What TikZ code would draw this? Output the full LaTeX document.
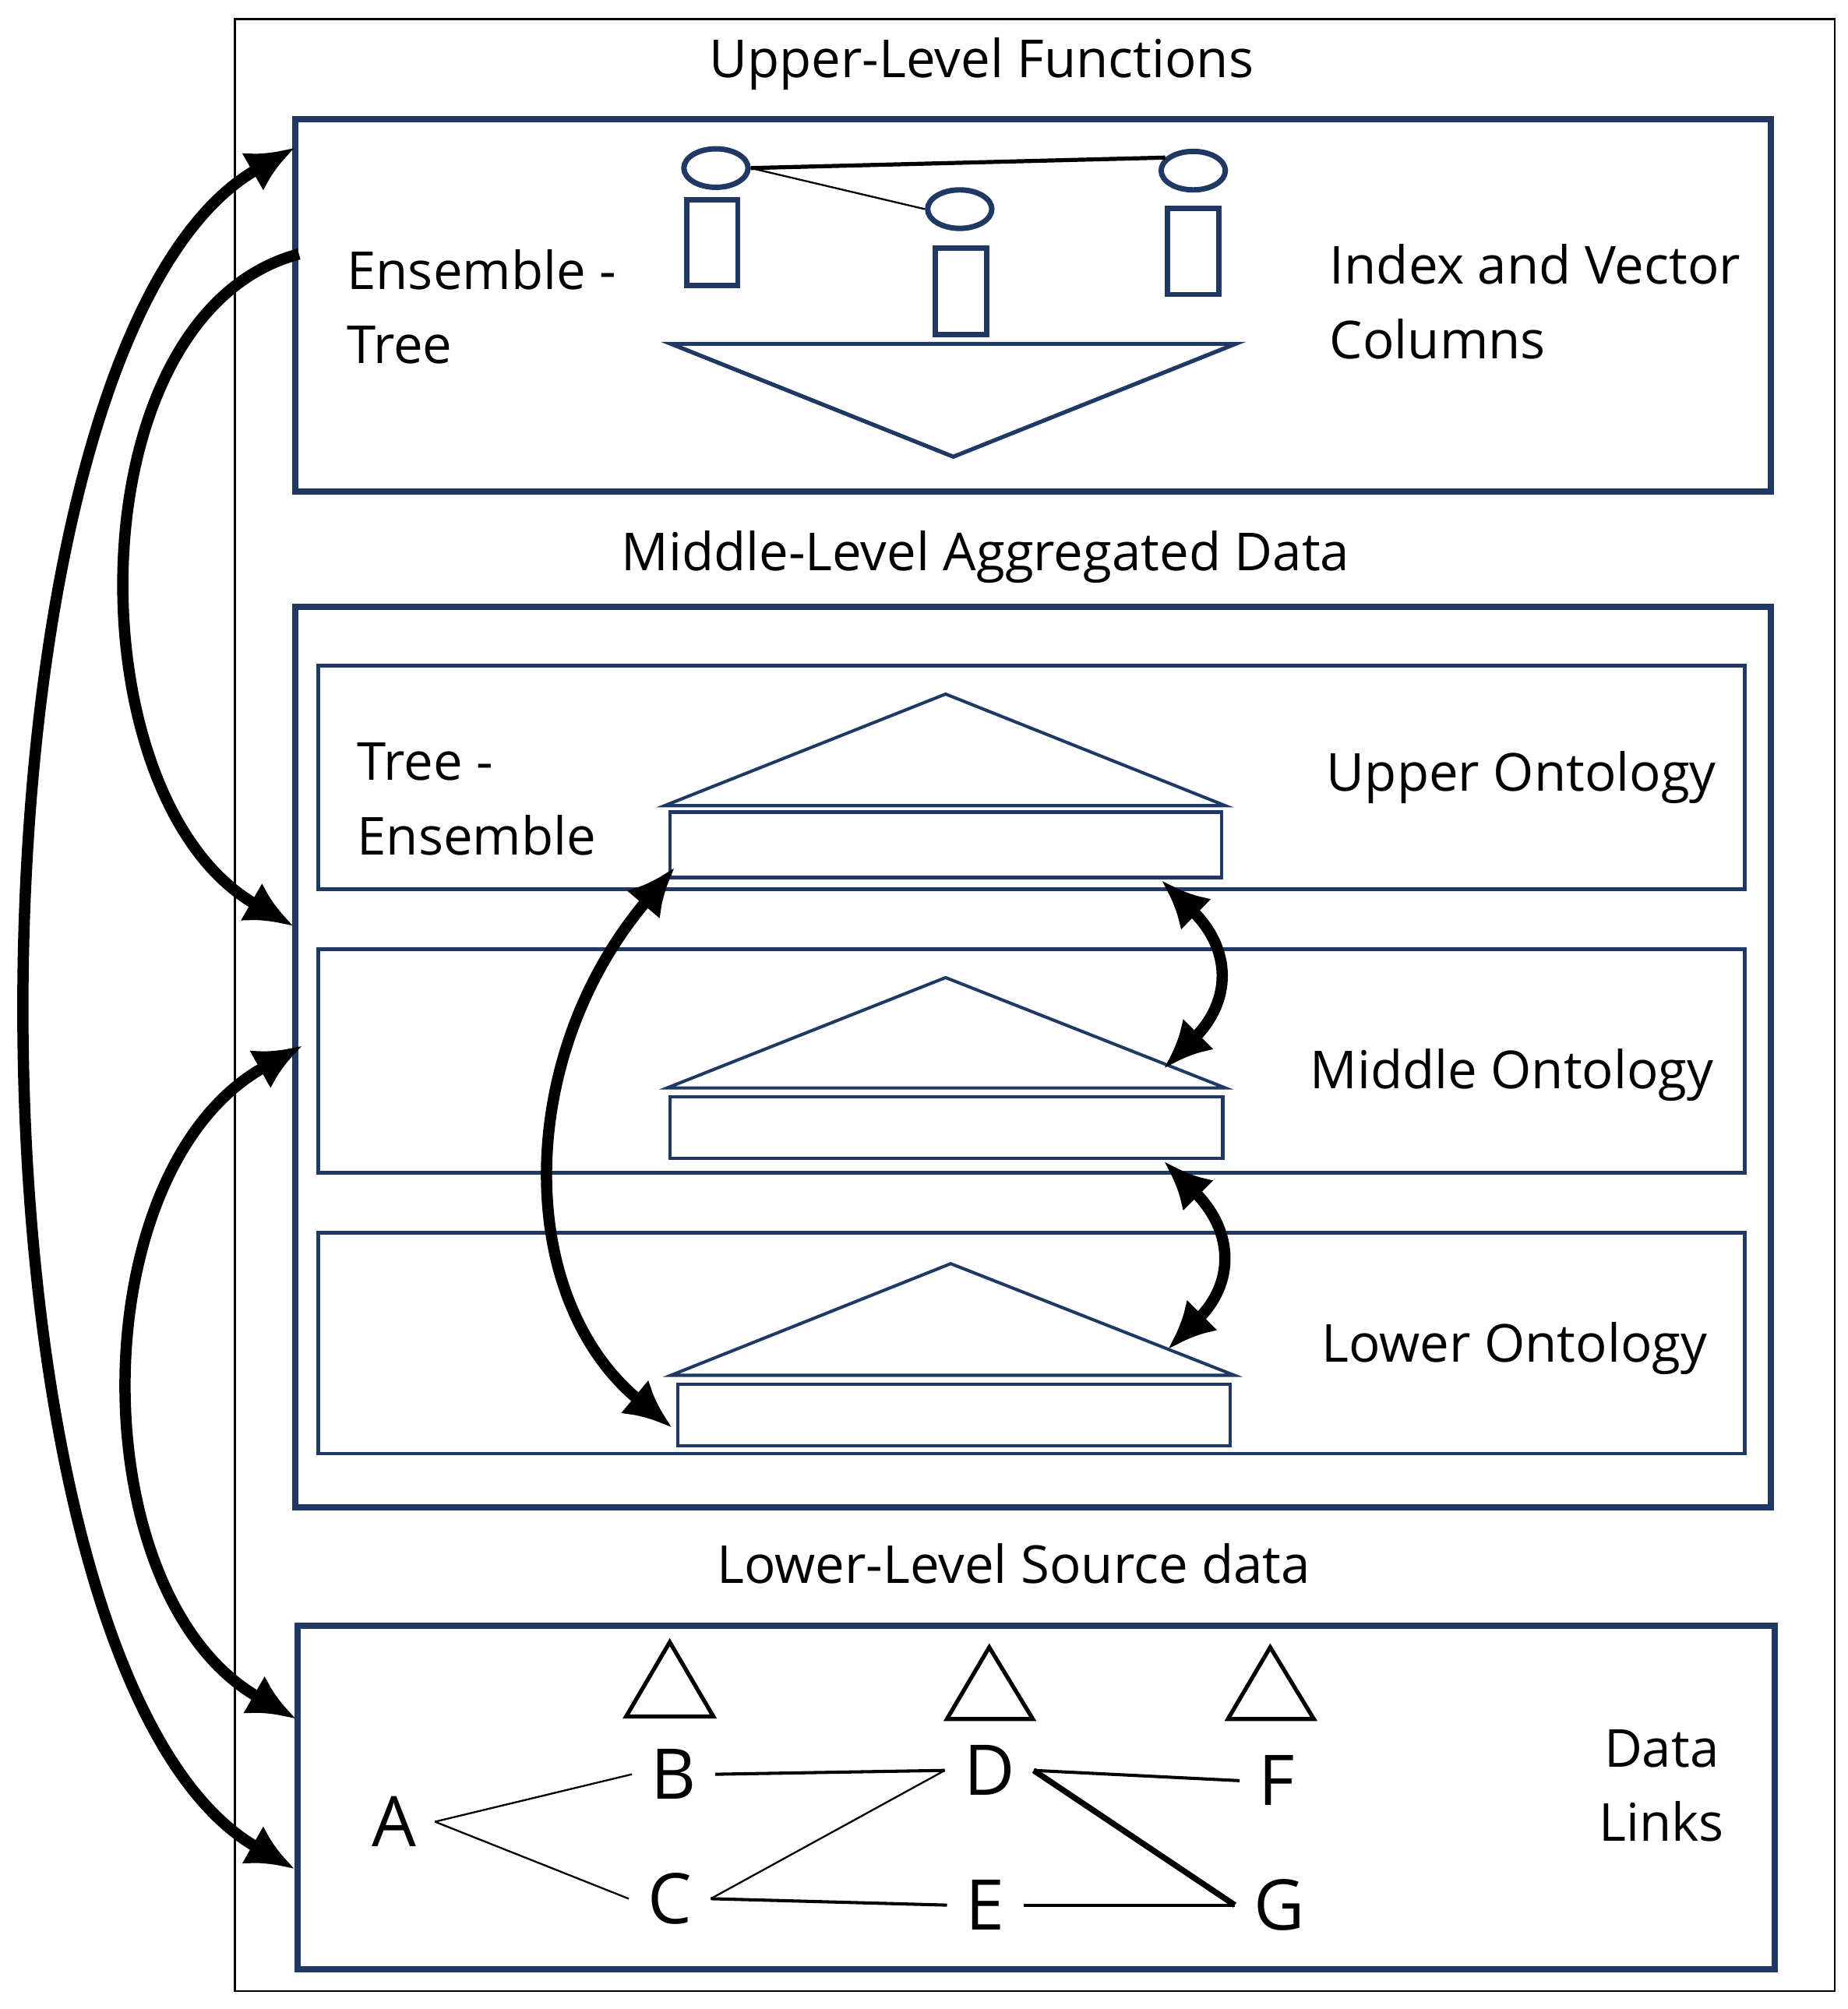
\documentclass[tikz,border=0pt]{standalone}
\usepackage{fontspec}
\setmainfont{Open Sans}
\usetikzlibrary{arrows.meta,shapes.geometric}
\definecolor{navy}{HTML}{203864}
\begin{document}
\begin{tikzpicture}[x=0.01cm,y=-0.01cm]
	\tikzstyle{Box} = [draw=navy, line width=1.4pt]
	\tikzstyle{SubBox} = [draw=navy, line width=0.8pt]
	\tikzstyle{Shape} = [draw=navy, line width=0.7pt]
	\tikzstyle{Title} = [font=\fontsize{11.6}{15}\selectfont]
	\tikzstyle{Label} = [font=\fontsize{11.6}{16.5}\selectfont, align=left]
	\tikzstyle{Letter} = [font=\fontsize{15.5}{18}\selectfont, inner sep=4pt]
	\tikzstyle{Cap} = [ellipse, draw=navy, line width=1.2pt, minimum width=0.5cm, minimum height=0.3cm, inner sep=0pt]
	\tikzstyle{Col} = [draw=navy, line width=1.2pt, minimum width=0.4cm, minimum height=0.67cm, inner sep=0pt]
	\tikzstyle{Bend} = [line width=2.5pt, >={Latex[length=0.38cm,width=0.34cm]}]
	\useasboundingbox (0,0) rectangle (1440,1566);
	% frames
	\draw[line width=0.5pt] (183,15) rectangle (1430,1552);
	\draw[Box] (230,93) rectangle (1380,383);
	\draw[Box] (230,473) rectangle (1380,1175);
	\draw[Box] (232,1267) rectangle (1383,1535);
	\draw[SubBox] (248,519) rectangle (1360,693);
	\draw[SubBox] (248,740) rectangle (1360,914);
	\draw[SubBox] (248,961) rectangle (1360,1133);
	% titles
	\node[Title] (uptitle) at (765,50) {Upper-Level Functions};
	\node[Title] (midtitle) at (768,434) {Middle-Level Aggregated Data};
	\node[Title] (lowtitle) at (790,1219) {Lower-Level Source data};
	% upper level
	\node[Label, anchor=west] (enstree) at (258,239) {Ensemble -\\Tree};
	\node[Label, anchor=west] (index) at (1024,235) {Index and Vector\\Columns};
	\node[Cap] (cap1) at (558,131) {};
	\node[Cap] (cap2) at (748,163) {};
	\node[Cap] (cap3) at (930,133) {};
	\node[Col] (col1) at (555,189) {};
	\node[Col] (col2) at (749,227) {};
	\node[Col] (col3) at (930,196) {};
	\draw[line width=0.9pt] (cap1.east) -- (cap3.155);
	\draw[line width=0.4pt] (cap1.east) -- (cap2.west);
	\draw[Shape, line width=0.9pt] (523,268) -- (963,268) -- (743,356) -- cycle;
	% middle level
	\node[Label, anchor=west] (treeens) at (266,623) {Tree -\\Ensemble};
	\node[Label, anchor=east] (upont) at (1350,606) {Upper Ontology};
	\node[Label, anchor=east] (midont) at (1348,838) {Middle Ontology};
	\node[Label, anchor=east] (lowont) at (1343,1051) {Lower Ontology};
	\draw[Shape] (518,628) -- (737,541) -- (955,628) -- cycle;
	\draw[Shape] (522,633) rectangle (952,684);
	\draw[Shape] (520,848) -- (737,762) -- (955,848) -- cycle;
	\draw[Shape] (522,855) rectangle (953,903);
	\draw[Shape] (523,1072) -- (741,985) -- (962,1072) -- cycle;
	\draw[Shape] (528,1079) rectangle (959,1127);
	% lower level
	\node[Label, align=center] (links) at (1295,1392) {Data\\Links};
	\draw[line width=0.9pt] (488,1338) -- (522,1280) -- (556,1338) -- cycle;
	\draw[line width=0.9pt] (738,1340) -- (771,1284) -- (805,1340) -- cycle;
	\draw[line width=0.9pt] (957,1340) -- (990,1284) -- (1024,1340) -- cycle;
	\node[Letter] (A) at (307,1420) {A};
	\node[Letter] (B) at (525,1383) {B};
	\node[Letter] (C) at (522,1480) {C};
	\node[Letter] (D) at (771,1380) {D};
	\node[Letter] (E) at (768,1485) {E};
	\node[Letter] (F) at (995,1388) {F};
	\node[Letter] (G) at (997,1485) {G};
	\draw[line width=0.4pt] (A.east) -- (B.west);
	\draw[line width=0.4pt] (A.east) -- (C.west);
	\draw[line width=0.7pt] (B.east) -- (D.west);
	\draw[line width=0.4pt] (D.west) -- (C.east);
	\draw[line width=0.7pt] (C.east) -- (E.west);
	\draw[line width=0.7pt] (D.east) -- (F.west);
	\draw[line width=1.3pt] (D.east) -- (G.west);
	\draw[line width=0.7pt] (E.east) -- (G.west);
	% connectors
	\coordinate (upin) at (230,115);
	\coordinate (upout) at (233,198);
	\coordinate (midin) at (229,722);
	\coordinate (midout) at (236,815);
	\coordinate (lowin) at (231,1340);
	\coordinate (lowlink) at (230,1457);
	\coordinate (upbar) at (526,676);
	\coordinate (upbarr) at (905,686);
	\coordinate (midbarr) at (907,833);
	\coordinate (midbarl) at (907,905);
	\coordinate (lowbarr) at (910,1052);
	\coordinate (lowbar) at (524,1113);
	\draw[Bend, <->] (upin) .. controls (-43,271) and (-43,1301) .. (lowlink);
	\draw[Bend, ->] (upout) .. controls (56,245) and (56,623) .. (midin);
	\draw[Bend, <->] (midout) .. controls (62,912) and (62,1243) .. (lowin);
	\draw[Bend, <->] (upbar) .. controls (401,824) and (401,1011) .. (lowbar);
	\draw[Bend, <->] (upbarr) .. controls (960,740) and (960,780) .. (midbarr);
	\draw[Bend, <->] (midbarl) .. controls (962,960) and (962,1000) .. (lowbarr);
\end{tikzpicture}
\end{document}
